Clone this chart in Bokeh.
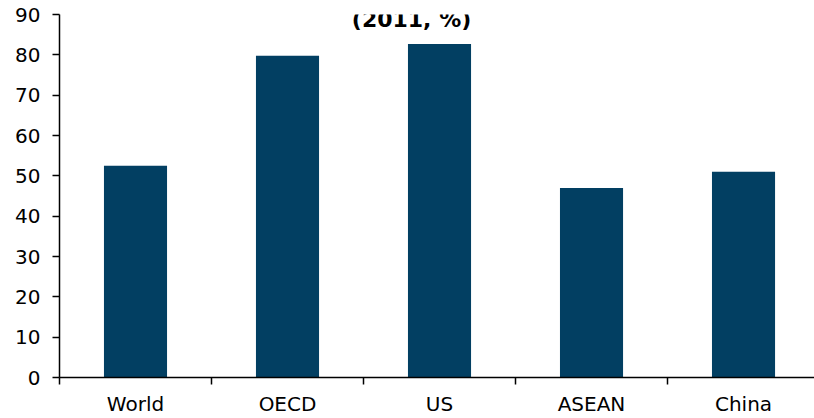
from bokeh.plotting import figure
from bokeh.models import Range1d, FixedTicker, Label, ColumnDataSource
from bokeh.embed import file_html
from bokeh.resources import INLINE

categories = ["World", "OECD", "US", "ASEAN", "China"]
values = [52.5, 79.8, 82.7, 47.0, 51.0]
y_ticks = [0, 10, 20, 30, 40, 50, 60, 70, 80, 90]
title_text = "(2011, %)"

FONT = "DejaVu Sans"
BAR = "#023F62"

xs = [i + 0.5 for i in range(len(categories))]
src = ColumnDataSource(dict(x=xs, top=values, cat=categories))

p = figure(width=814, height=418, output_backend="svg", toolbar_location=None,
           x_range=Range1d(0, 4.967), y_range=Range1d(0, 90),
           min_border_left=59, min_border_right=0, min_border_top=14, min_border_bottom=41)
p.outline_line_color = None
p.grid.visible = False
p.background_fill_color = "white"
p.border_fill_color = "white"

p.vbar(x="x", top="top", width=0.415, source=src, fill_color=BAR, line_color=None)

# x axis: labels at category centres, ticks at category boundaries
p.xaxis.ticker = FixedTicker(ticks=xs, minor_ticks=list(range(len(categories))))
p.xaxis.major_label_overrides = {x: c for x, c in zip(xs, categories)}
p.xaxis.major_tick_line_color = None
p.xaxis.major_tick_out = 0
p.xaxis.major_tick_in = 0
p.xaxis.minor_tick_out = 7
p.xaxis.minor_tick_in = 0
p.xaxis.minor_tick_line_color = "black"
p.xaxis.minor_tick_line_width = 1.5
p.xaxis.major_label_standoff = 7
p.xaxis.major_label_text_font = FONT
p.xaxis.major_label_text_font_size = "20px"
p.xaxis.major_label_text_color = "black"
p.xaxis.axis_line_color = "black"
p.xaxis.axis_line_width = 1.5

p.yaxis.ticker = FixedTicker(ticks=y_ticks)
p.yaxis.major_tick_out = 7
p.yaxis.major_tick_in = 0
p.yaxis.major_tick_line_width = 1.5
p.yaxis.minor_tick_line_color = None
p.yaxis.major_label_standoff = 12
p.yaxis.major_label_text_font = FONT
p.yaxis.major_label_text_font_size = "20px"
p.yaxis.major_label_text_color = "black"
p.yaxis.axis_line_color = "black"
p.yaxis.axis_line_width = 1.5

p.add_layout(Label(x=2.316, y=88.8, text=title_text, text_align="center",
                   text_baseline="alphabetic", text_font=FONT,
                   text_font_style="bold", text_font_size="22px", text_color="black"))

open("out.html", "w").write(file_html(p, INLINE))
